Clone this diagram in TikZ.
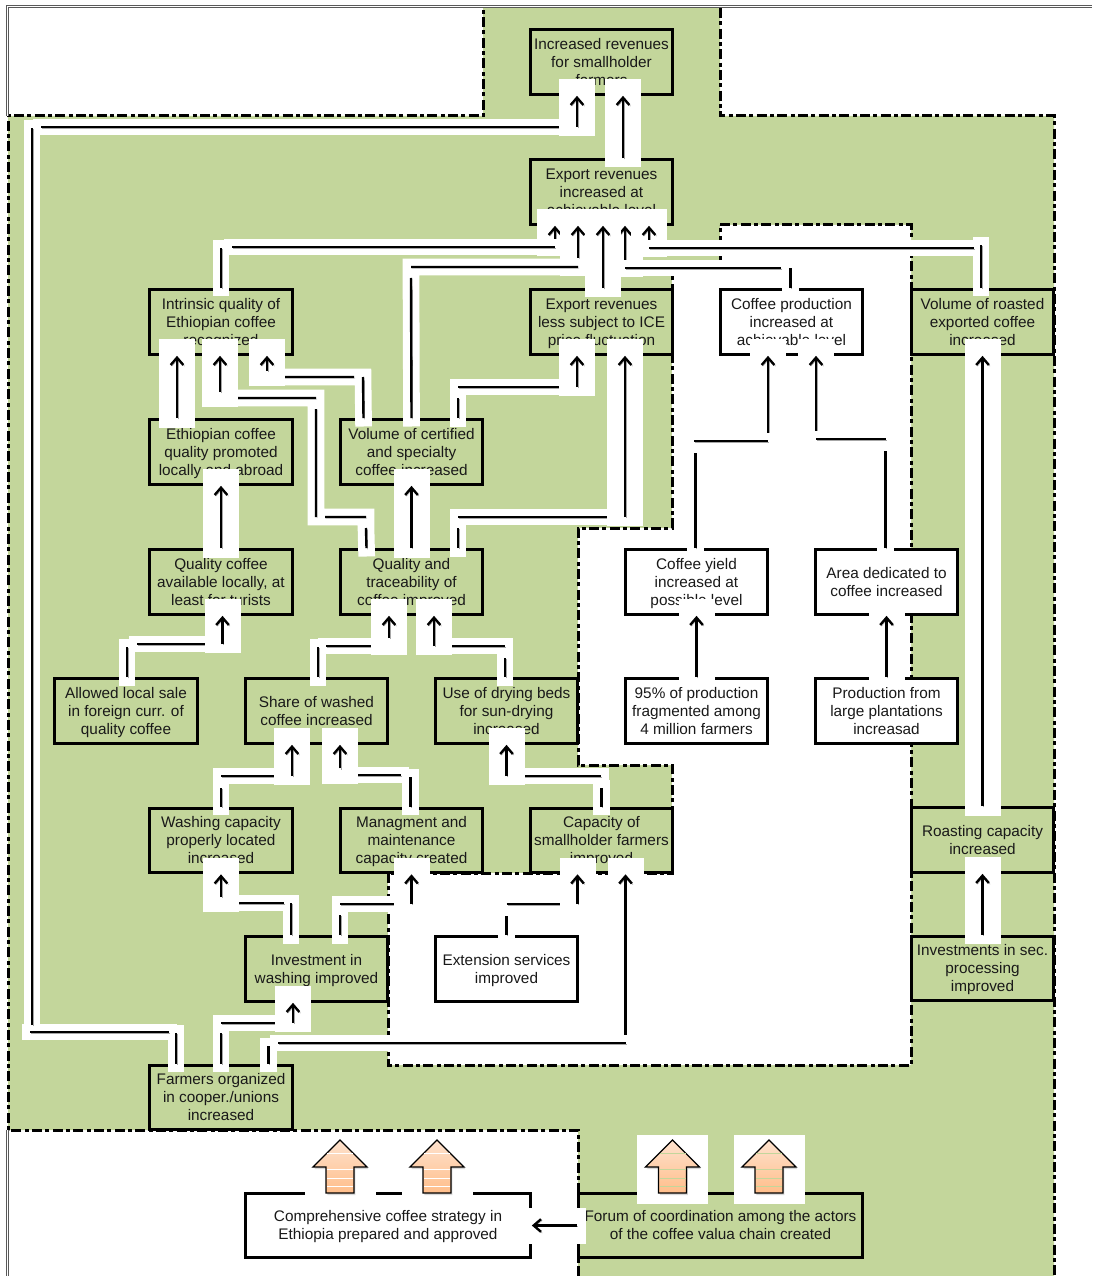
\documentclass[tikz,border=0pt]{standalone}
\usepackage{fontspec}
\setmainfont{Liberation Sans}
\usetikzlibrary{arrows.meta,calc,shadows}
\definecolor{LeafGreen}{RGB}{195,214,155}
\definecolor{PeachTop}{RGB}{254,226,206}
\definecolor{PeachLow}{RGB}{255,190,138}

\tikzset{
  goal/.style={draw,line width=2.25pt,inner sep=0pt,minimum width=107pt,minimum height=48.5pt,
    align=center,text=black!90,font=\fontsize{11.5}{13.5}\selectfont,text depth=.4pt},
  widegoal/.style={goal,minimum width=213.5pt},
  zone/.style={line width=2.25pt,dash pattern=on 7.5pt off 2.5pt on 3pt off 2.5pt},
  wire/.style={line width=1.8pt,
    preaction={draw=white,line width=12.5pt,line cap=rect},
    preaction={draw=black!35,transform canvas={shift={(.9pt,-.9pt)}}}},
  lead/.style={line width=1.8pt,-{Straight Barb[length=5.5pt,width=9.5pt]},
    preaction={draw=white,-,line width=27pt,shorten >=-12.5pt,shorten <=-7pt},
    preaction={draw=black!35,transform canvas={shift={(.9pt,-.9pt)}}}},
  pushup/.style={draw=black,line width=1pt,top color=PeachTop,bottom color=PeachLow,
    drop shadow={opacity=.3,shadow xshift=1pt,shadow yshift=-1.5pt}}
}

\begin{document}
\begin{tikzpicture}[x=.75pt,y=-.75pt]
  \useasboundingbox (0,0) rectangle (1092,1276);
  % zones
  \fill[LeafGreen] (483,8) -- (720,8) -- (720,116) -- (1054,116) -- (1054,1276) -- (578,1276) -- (578,1130) -- (8,1130) -- (8,116) -- (483,116) -- cycle;
  \draw[zone] (720,8) -- (720,116) -- (1054,116) -- (1054,1276);
  \draw[zone] (578,1276) -- (578,1130) -- (8,1130) -- (8,116) -- (483,116) -- (483,8);
  \draw[zone,fill=white] (720,225) -- (911,225) -- (911,1065) -- (388,1065) -- (388,873) -- (672,873) -- (672,765) -- (578,765) -- (578,528) -- (672,528) -- (672,268) -- (720,268) -- cycle;
  \draw[draw=black!65,double=white,double distance=.6pt,line width=.8pt] (7.5,116) -- (7.5,6.5) -- (1092,6.5);
  \draw[draw=black!65,double=white,double distance=.6pt,line width=.8pt] (7.5,1130) -- (7.5,1276);

  % goals
  \node[goal] (revenues) at (601.5,62) {Increased revenues\\for smallholder\\farmers};
  \node[goal] (exports) at (601.5,192) {Export revenues\\increased at\\achievable level};
  \node[goal] (intrinsic) at (221,322) {Intrinsic quality of\\Ethiopian coffee\\recognized};
  \node[goal] (icefree) at (601.5,322) {Export revenues\\less subject to ICE\\price fluctuation};
  \node[goal] (output) at (791.5,322) {Coffee production\\increased at\\achievable level};
  \node[goal] (roasted) at (982.5,322) {Volume of roasted\\exported coffee\\increased};
  \node[goal] (promoted) at (221,452) {Ethiopian coffee\\quality promoted\\locally and abroad};
  \node[goal] (certified) at (411.5,452) {Volume of certified\\and specialty\\coffee increased};
  \node[goal] (qualcoffee) at (221,582) {Quality coffee\\available locally, at\\least for turists};
  \node[goal] (traceable) at (411.5,582) {Quality and\\traceability of\\coffee improved};
  \node[goal] (yield) at (696.5,582) {Coffee yield\\increased at\\possible level};
  \node[goal,fill=white] (area) at (886.5,582) {Area dedicated to\\coffee increased};
  \node[goal] (sale) at (126,711) {Allowed local sale\\in foreign curr. of\\quality coffee};
  \node[goal] (washed) at (316.5,711) {Share of washed\\coffee increased};
  \node[goal] (drying) at (506.5,711) {Use of drying beds\\for sun-drying\\increased};
  \node[goal] (fragments) at (696.5,711) {95\% of production\\fragmented among\\4 million farmers};
  \node[goal,fill=white] (plantations) at (886.5,711) {Production from\\large plantations\\increasad};
  \node[goal] (washcap) at (221,840.5) {Washing capacity\\properly located\\increased};
  \node[goal] (manage) at (411.5,840.5) {Managment and\\maintenance\\capacity created};
  \node[goal] (smallcap) at (601.5,840.5) {Capacity of\\smallholder farmers\\improved};
  \node[goal] (roastcap) at (982.5,840) {Roasting capacity\\increased};
  \node[goal] (invwash) at (316.5,969) {Investment in\\washing improved};
  \node[goal] (extension) at (506.5,969) {Extension services\\improved};
  \node[goal] (invsec) at (982.5,968.5) {Investments in sec.\\processing\\improved};
  \node[goal] (farmers) at (221,1097.5) {Farmers organized\\in cooper./unions\\increased};
  \node[widegoal] (strategy) at (388,1225.5) {Comprehensive coffee strategy in\\Ethiopia prepared and approved};
  \node[widegoal] (forum) at (720.5,1225.5) {Forum of coordination among the actors\\of the coffee valua chain created};

  % block arrows
  \foreach \px/\tint in {340/white,437/white,672.5/LeafGreen,769/LeafGreen}{
    \fill[white] (\px-35.5,1135) rectangle (\px+35.5,1204);
    \path[pushup] (\px,1140) -- (\px+27,1167) -- (\px+14,1167) -- (\px+14,1193) -- (\px-14,1193) -- (\px-14,1167) -- (\px-27,1167) -- cycle;
    \draw[\tint,line width=.6pt] (\px-13,1153) -- (\px+13,1153) (\px-13,1169) -- (\px+13,1169) (\px-13,1178) -- (\px+13,1178) (\px-13,1186) -- (\px+13,1186);
  }

  % outcome links of the top row
  \coordinate (tInt) at (555,247);
  \coordinate (tCer) at (578,267);
  \coordinate (tOut) at (625,268);
  \coordinate (tVol) at (649,248);
  \draw[lead,shorten <=5pt] (tInt) -- ($(exports.south)+(-46.5,0)$);
  \draw[lead,shorten <=7pt] (tCer) -- ($(exports.south)+(-23.5,0)$);
  \draw[lead,shorten <=4.5pt] (tOut) -- ($(exports.south)+(23.5,0)$);
  \draw[lead,shorten <=4.5pt] (tVol) -- ($(exports.south)+(47.5,0)$);
  \draw[wire] (intrinsic.north) -- (221,248) (232,247) -- (tInt);
  \draw[wire] (certified.north) -- (411,278) (411,267) -- (tCer);
  \draw[wire] ($(output.north)+(-1,0)$) -- (790.5,268) (781,268) -- (tOut);
  \draw[wire] ($(roasted.north)+(-1.5,0)$) -- (981,245) (974,248) -- (tVol);
  \draw[lead] ($(icefree.north)+(1.5,0)$) -- ($(exports.south)+(1.5,0)$);

  % left trunk
  \draw[wire] ($(farmers.north)+(-45,0)$) -- (176,1033) (169,1032) -- (30,1032) (32,1025) -- (32,128) (41,127) -- (577,127) coordinate (tRev);
  \draw[lead] (tRev) -- ($(revenues.south)+(-24.5,0)$);
  \draw[lead] ($(exports.north)+(21.5,0)$) -- ($(revenues.south)+(21.5,0)$);

  % second row
  \draw[lead] ($(promoted.north)+(-44,0)$) -- ($(intrinsic.south)+(-44,0)$);
  \draw[wire] ($(traceable.north)+(-45,0)$) -- (366,528) (366,517) -- (325,517) (316,517) -- (316,409) (316,398) -- (220,398) coordinate (tTrc);
  \draw[lead,shorten <=4.5pt] (tTrc) -- ($(intrinsic.south)+(-1,0)$);
  \draw[wire] ($(certified.north)+(-48,0)$) -- (363,377) (354,377) -- (267,377) coordinate (tCrt);
  \draw[lead,shorten <=4.5pt] (tCrt) -- ($(intrinsic.south)+(46,0)$);
  \draw[wire] ($(certified.north)+(46.5,0)$) -- (458,398) (458,387) -- (577,387) coordinate (tIce);
  \draw[lead] (tIce) -- ($(icefree.south)+(-24.5,0)$);
  \draw[lead] (qualcoffee.north) -- (promoted.south);
  \draw[lead] (traceable.north) -- (certified.south);
  \draw[wire] ($(traceable.north)+(46.5,0)$) -- (458,528) (458,517) -- (625,517) coordinate (tTra);
  \draw[lead] (tTra) -- ($(icefree.south)+(23.5,0)$);

  % production side
  \coordinate (tYld) at (768,441);
  \coordinate (tAre) at (816,439);
  \draw[lead,shorten <=5pt] (tYld) -- ($(output.south)+(-23.5,0)$);
  \draw[lead,shorten <=5pt] (tAre) -- ($(output.south)+(24.5,0)$);
  \draw[wire] ($(yield.north)+(-1,0)$) -- (695.5,453) (694,441) -- (tYld);
  \draw[wire] ($(area.north)+(-1,0)$) -- (885.5,451) (885.5,439) -- (tAre);
  \draw[lead] (fragments.north) -- (yield.south);
  \draw[lead] (plantations.north) -- (area.south);
  \draw[lead] (roastcap.north) -- (roasted.south);
  \draw[lead] (invsec.north) -- (roastcap.south);

  % third row
  \draw[wire] ($(sale.north)+(1,0)$) -- (127,647) (137,644) -- (222.5,644) coordinate (tSal);
  \draw[lead] (tSal) -- ($(qualcoffee.south)+(1.5,0)$);
  \draw[wire] ($(washed.north)+(1.5,0)$) -- (318,647) (326,646) -- (389,646) coordinate (tWsh);
  \draw[lead,shorten <=6pt] (tWsh) -- ($(traceable.south)+(-22.5,0)$);
  \draw[wire] ($(drying.north)+(-1.5,0)$) -- (505,658) (505,646) -- (434,646) coordinate (tDry);
  \draw[lead] (tDry) -- ($(traceable.south)+(22.5,0)$);

  % fourth row
  \draw[wire] (washcap.north) -- (221,788) (221,776) -- (292,776) coordinate (tCap);
  \draw[lead] (tCap) -- ($(washed.south)+(-24.5,0)$);
  \draw[wire] ($(manage.north)+(-1,0)$) -- (410.5,777) (401,775) -- (340,775) coordinate (tMan);
  \draw[lead,shorten <=5pt] (tMan) -- ($(washed.south)+(23.5,0)$);
  \draw[wire] (smallcap.north) -- (601.5,788) (601,776) -- (506.5,776) coordinate (tSma);
  \draw[lead] (tSma) -- (drying.south);

  % fifth row
  \draw[wire] ($(invwash.north)+(-25.5,0)$) -- (291,903) (284,903) -- (221,903) coordinate (tInv);
  \draw[lead,shorten <=4.5pt] (tInv) -- (washcap.south);
  \draw[wire] ($(invwash.north)+(23.5,0)$) -- (340,915) (340,904) -- (411.5,904) coordinate (tMng);
  \draw[lead] (tMng) -- (manage.south);
  \draw[wire] (extension.north) -- (506.5,916) (506.5,904) -- (577.5,904) coordinate (tExt);
  \draw[lead] (tExt) -- ($(smallcap.south)+(-24,0)$);

  % farmers organized
  \coordinate (tFar) at (625.5,1043);
  \draw[lead,shorten <=4.5pt] (tFar) -- ($(smallcap.south)+(24,0)$);
  \draw[wire] ($(farmers.north)+(47.5,0)$) -- (268.5,1046) (278,1043) -- (tFar);
  \draw[wire] (farmers.north) -- (221,1033) (221,1023) -- (293,1023) coordinate (tOrg);
  \draw[lead] (tOrg) -- ($(invwash.south)+(-23.5,0)$);

  % strategy
  \draw[lead] (forum.west) -- (strategy.east);
\end{tikzpicture}
\end{document}
